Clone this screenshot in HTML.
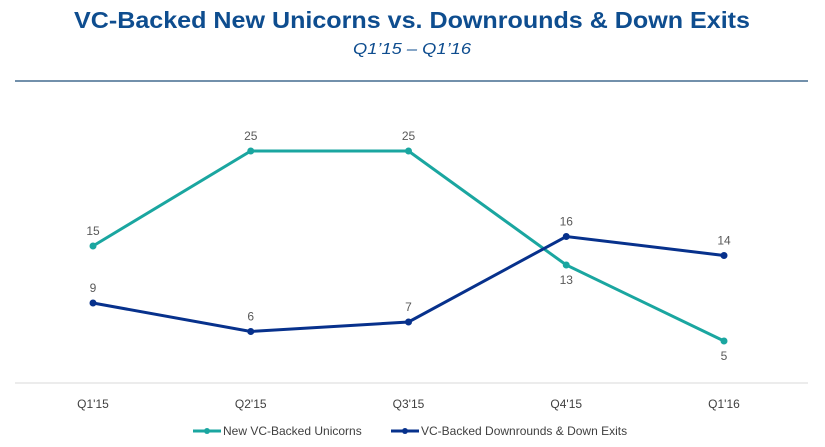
<!DOCTYPE html>
<html><head><meta charset="utf-8"><style>
body{margin:0;background:#fff;width:825px;height:442px;overflow:hidden;font-family:"Liberation Sans",Arial,sans-serif}
</style></head><body>
<svg width="825" height="442" xmlns="http://www.w3.org/2000/svg">
<text x="412" y="28" text-anchor="middle" font-size="23" font-weight="bold" fill="#0e4d8f" textLength="676" lengthAdjust="spacingAndGlyphs">VC-Backed New Unicorns vs. Downrounds &amp; Down Exits</text>
<text x="412" y="54" text-anchor="middle" font-size="16" font-style="italic" fill="#0e4d8f" textLength="118" lengthAdjust="spacingAndGlyphs">Q1’15 – Q1’16</text>
<line x1="15" y1="81" x2="808" y2="81" stroke="#1f4e79" stroke-width="1.3"/>
<line x1="15" y1="383" x2="808" y2="383" stroke="#d9d9d9" stroke-width="1"/>
<g id="plot"></g>
<g>
<g>
<line x1="193" y1="431" x2="221" y2="431" stroke="#1aa6a0" stroke-width="3"/><circle cx="207" cy="431" r="3" fill="#1aa6a0"/>
<text x="223" y="435" font-size="12" fill="#404040">New VC-Backed Unicorns</text></g>
<g>
<line x1="391" y1="431" x2="419" y2="431" stroke="#07318c" stroke-width="3"/><circle cx="405" cy="431" r="3" fill="#07318c"/>
<text x="421" y="435" font-size="12" fill="#404040">VC-Backed Downrounds &amp; Down Exits</text></g>
</g>
</svg>
<script>
const categories=["Q1'15","Q2'15","Q3'15","Q4'15","Q1'16"];
const unicorns=[15,25,25,13,5];
const downrounds=[9,6,7,16,14];
const xs=i=>93+i*157.75;
const ys=v=>388.5-v*9.5;
const NS="http://www.w3.org/2000/svg";
const g=document.getElementById('plot');
function mk(t,a){const e=document.createElementNS(NS,t);for(const k in a)e.setAttribute(k,a[k]);g.appendChild(e);return e;}
categories.forEach((c,i)=>{const t=mk('text',{x:xs(i),y:408,'text-anchor':'middle','font-size':12,fill:'#404040'});t.textContent=c;

});
function series(vals,color,name,below){
 const p=mk('polyline',{points:vals.map((v,i)=>xs(i)+','+ys(v)).join(' '),fill:'none',stroke:color,'stroke-width':3});
 
 
 vals.forEach((v,i)=>{const c=mk('circle',{cx:xs(i),cy:ys(v),r:3.5,fill:color});
 
 
 const lb=below(i);
 const t=mk('text',{x:xs(i),y:lb?ys(v)+19:ys(v)-11,'text-anchor':'middle','font-size':12,fill:'#595959'});t.textContent=v;
 
 });
}
series(unicorns,'#1aa6a0','unicorns',i=>unicorns[i]<downrounds[i]);
series(downrounds,'#07318c','downrounds',i=>false);
</script>
</body></html>
